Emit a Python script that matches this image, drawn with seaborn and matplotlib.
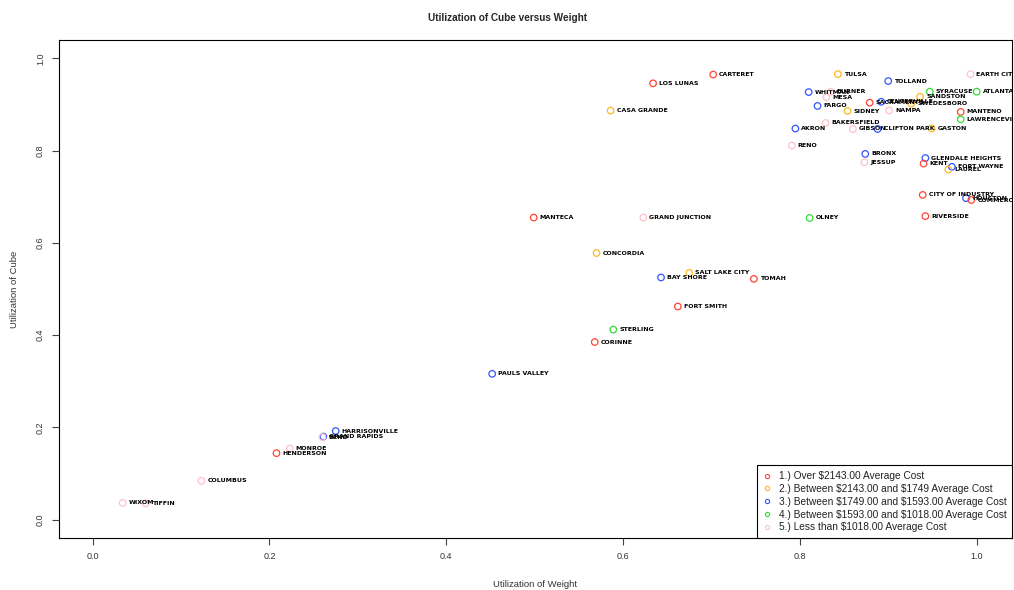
import matplotlib
matplotlib.use("Agg")
import matplotlib.pyplot as plt
import matplotlib.transforms as mtransforms
from matplotlib.lines import Line2D
import seaborn as sns
import pandas as pd

# Terminal utilization: share of trailer weight and cube capacity used
cities = [
    "EARTH CITY", "TULSA", "TOLLAND", "CARTERET", "LOS LUNAS", "CASA GRANDE",
    "WHITMAN", "BURNER", "MESA", "FARGO", "SIDNEY", "NAMPA", "SACRAMENTO",
    "CENTERVILLE", "SWEDESBORO", "SANDSTON", "SYRACUSE", "ATLANTA", "MANTENO",
    "LAWRENCEVILLE", "BAKERSFIELD", "AKRON", "GIBSON", "CLIFTON PARK", "GASTON",
    "RENO", "BRONX", "JESSUP", "GLENDALE HEIGHTS", "KENT", "FORT WAYNE", "LAUREL",
    "CITY OF INDUSTRY", "HOUSTON", "COMMERCE", "RIVERSIDE", "OLNEY", "MANTECA",
    "GRAND JUNCTION", "CONCORDIA", "BAY SHORE", "SALT LAKE CITY", "TOMAH",
    "FORT SMITH", "STERLING", "CORINNE", "PAULS VALLEY", "HARRISONVILLE",
    "GRAND RAPIDS", "BEND", "MONROE", "HENDERSON", "COLUMBUS", "WIXOM", "TIFFIN",
]
weight_util = [
    0.993, 0.843, 0.900, 0.702, 0.634, 0.586,
    0.810, 0.835, 0.830, 0.820, 0.854, 0.901, 0.879,
    0.892, 0.926, 0.936, 0.947, 1.000, 0.982,
    0.982, 0.829, 0.795, 0.860, 0.888, 0.949,
    0.791, 0.874, 0.873, 0.942, 0.940, 0.972, 0.968,
    0.939, 0.988, 0.994, 0.942, 0.811, 0.499,
    0.623, 0.570, 0.643, 0.675, 0.748,
    0.662, 0.589, 0.568, 0.452, 0.275,
    0.261, 0.260, 0.223, 0.208, 0.123, 0.034, 0.060,
]
cube_util = [
    0.966, 0.966, 0.951, 0.965, 0.946, 0.887,
    0.927, 0.928, 0.916, 0.897, 0.886, 0.887, 0.904,
    0.906, 0.902, 0.917, 0.928, 0.928, 0.884,
    0.868, 0.860, 0.848, 0.847, 0.847, 0.848,
    0.811, 0.793, 0.775, 0.784, 0.772, 0.765, 0.759,
    0.704, 0.697, 0.693, 0.658, 0.654, 0.655,
    0.655, 0.578, 0.525, 0.535, 0.522,
    0.462, 0.412, 0.385, 0.316, 0.192,
    0.180, 0.179, 0.154, 0.144, 0.084, 0.036, 0.035,
]
cost_tier = [
    5, 2, 3, 1, 1, 2,
    3, 5, 5, 3, 2, 5, 1,
    3, 2, 2, 4, 4, 1,
    4, 5, 3, 5, 3, 2,
    5, 3, 5, 3, 1, 3, 2,
    1, 3, 1, 1, 4, 1,
    5, 2, 3, 2, 1,
    1, 4, 1, 3, 3,
    3, 5, 5, 1, 5, 5, 5,
]
tier_labels = [
    "1.) Over $2143.00 Average Cost",
    "2.) Between $2143.00 and $1749 Average Cost",
    "3.) Between $1749.00 and $1593.00 Average Cost",
    "4.) Between $1593.00 and $1018.00 Average Cost",
    "5.) Less than $1018.00 Average Cost",
]
tier_colors = ["#ff4433", "#ffb820", "#3355ff", "#33dd33", "#ffc0cb"]
x_ticks = [0.0, 0.2, 0.4, 0.6, 0.8, 1.0]
y_ticks = [0.0, 0.2, 0.4, 0.6, 0.8, 1.0]

sns.set_theme(style="white")
plt.rcParams["font.family"] = ["Liberation Sans", "DejaVu Sans"]
plt.rcParams["text.parse_math"] = False

df = pd.DataFrame({
    "city": cities,
    "weight": weight_util,
    "cube": cube_util,
    "tier": [tier_labels[t - 1] for t in cost_tier],
})

fig = plt.figure(figsize=(10.14, 5.9), dpi=100)
ax = fig.add_axes([59 / 1014, 52 / 590, 953 / 1014, 498 / 590])

sns.scatterplot(data=df, x="weight", y="cube", hue="tier", hue_order=tier_labels,
                palette=tier_colors, s=22, linewidth=0.9, legend=False, ax=ax)
# hollow circles: move the hue colour onto the edge
coll = ax.collections[0]
coll.set_edgecolors(coll.get_facecolors())
coll.set_facecolors("none")

# city names just to the right of each point
label_tr = mtransforms.offset_copy(ax.transData, fig=fig, x=4.3, y=0, units="points")
for name, x, y in zip(df["city"], df["weight"], df["cube"]):
    ax.text(x, y, name, transform=label_tr, ha="left", va="center",
            fontsize=4.5, fontfamily="DejaVu Sans", fontweight="bold",
            color="black", clip_on=True)

ax.set_xlim(-0.038, 1.04)
ax.set_ylim(-0.04, 1.04)
ax.set_xticks(x_ticks)
ax.set_yticks(y_ticks)
ax.set_xticklabels([f"{v:.1f}" for v in x_ticks])
ax.set_yticklabels([f"{v:.1f}" for v in y_ticks], rotation=90, va="center")
ax.tick_params(axis="both", which="major", direction="out", length=5, width=0.8,
               color="#444444", labelsize=6.5, labelcolor="#333333", pad=5,
               bottom=True, left=True)
for sp in ax.spines.values():
    sp.set_color("black")
    sp.set_linewidth(0.8)

ax.set_xlabel("Utilization of Weight", fontsize=6.8, color="#333333", labelpad=14)
ax.set_ylabel("Utilization of Cube", fontsize=6.8, color="#333333", labelpad=12)
fig.suptitle("Utilization of Cube versus Weight", fontsize=7.2, fontweight="bold",
             y=0.978)

handles = [Line2D([], [], ls="none", marker="o", ms=3.0, mfc="none", mec=c, mew=0.8)
           for c in tier_colors]
leg = ax.legend(handles, tier_labels, loc="lower right", borderaxespad=0,
                frameon=True, fancybox=False, edgecolor="black", fontsize=7.3,
                handlelength=0.8, handletextpad=0.8, labelspacing=0.28,
                borderpad=0.55, framealpha=1)
leg.get_frame().set_linewidth(0.8)
for t in leg.get_texts():
    t.set_color("#222222")

fig.savefig("out.png", dpi=100, facecolor="white")
